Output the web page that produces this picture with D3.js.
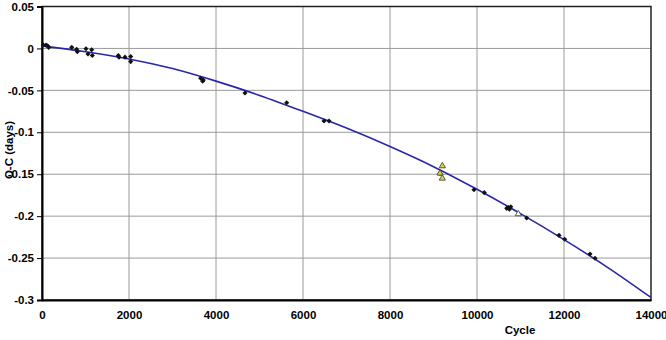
<!DOCTYPE html>
<html>
<head>
<meta charset="utf-8">
<script src="https://cdn.jsdelivr.net/npm/d3@7"></script>
<style>
  body { margin: 0; background: #fff; }
  svg text { font-family: "Liberation Sans", Arial, sans-serif; font-weight: bold; }
</style>
</head>
<body>
<div id="chart"></div>
<script>
// observed minima (cycle, O-C)
var obsCycles = [30, 92, 131, 154, 683, 797, 812, 1011, 1057, 1142, 1157, 1754, 1770, 1908, 2039, 2039,
  3648, 3694, 3708, 4666, 5625, 6483, 6598, 9150, 9930, 10168, 10683, 10721, 10744, 10776, 11142,
  11885, 12016, 12598, 12713];
var obsValues = [0.004, 0.004, 0.003, 0.0013, 0.0013, -0.001, -0.004, -0.0004, -0.0067, -0.0016, -0.0085,
  -0.0085, -0.0104, -0.0104, -0.0097, -0.0157, -0.0356, -0.0392, -0.0377, -0.0532, -0.0647, -0.0866,
  -0.0866, -0.149, -0.1685, -0.172, -0.1907, -0.1899, -0.1918, -0.1888, -0.2022, -0.2229, -0.2276,
  -0.2451, -0.2503];

// other minima (triangles)
var triCycles = [9203, 9150, 9203];
var triValues = [-0.1402, -0.1489, -0.1549];
var openTriCycles = [10950];
var openTriValues = [-0.1974];

// fitted curve
var fitCycles = [0, 1000, 2000, 3000, 4000, 5000, 6000, 7000, 8000, 9000, 10000, 11000, 12000, 13000, 14000];
var fitValues = [0.003, -0.004, -0.0125, -0.024, -0.039, -0.056, -0.075, -0.095, -0.117, -0.141, -0.168,
  -0.197, -0.228, -0.261, -0.297];

var xTicks = [0, 2000, 4000, 6000, 8000, 10000, 12000, 14000];
var yTicks = [0.05, 0, -0.05, -0.1, -0.15, -0.2, -0.25, -0.3];

function Plot() {
  var width = 666, height = 340;
  var mLeft = 42, mRight = 651, mTop = 6.5, mBottom = 300;

  var x = d3.scaleLinear().domain([0, 14000]).range([mLeft, mRight]);
  var y = d3.scaleLinear().domain([-0.3, 0.05]).range([mBottom, mTop]);

  var svg = d3.select("#chart").append("svg")
    .attr("width", width).attr("height", height);

  // grid
  svg.append("g").selectAll("line").data(xTicks.slice(1, -1)).enter().append("line")
    .attr("x1", function (d) { return x(d); }).attr("x2", function (d) { return x(d); })
    .attr("y1", mTop).attr("y2", mBottom)
    .attr("stroke", "#9a9a9a").attr("stroke-width", 1);
  svg.append("g").selectAll("line").data(yTicks.slice(1, -1)).enter().append("line")
    .attr("x1", mLeft).attr("x2", mRight)
    .attr("y1", function (d) { return y(d); }).attr("y2", function (d) { return y(d); })
    .attr("stroke", "#9a9a9a").attr("stroke-width", 1);

  // box
  svg.append("rect").attr("x", mLeft).attr("y", mTop)
    .attr("width", mRight - mLeft).attr("height", mBottom - mTop)
    .attr("fill", "none").attr("stroke", "#222").attr("stroke-width", 1.5);

  // axes
  var yAxis = d3.axisLeft(y).tickValues(yTicks).tickSize(5).tickPadding(3)
    .tickFormat(function (d) { return String(+d.toFixed(2)); });
  var gy = svg.append("g").attr("transform", "translate(" + mLeft + ",0)").call(yAxis);
  gy.select(".domain").attr("stroke", "#000").attr("stroke-width", 2);
  gy.selectAll("text").style("font-size", "11.5px").attr("fill", "#000");
  gy.selectAll(".tick line").attr("stroke", "#000");

  var xAxis = d3.axisBottom(x).tickValues(xTicks).tickSize(0).tickPadding(11).tickFormat(d3.format("d"));
  var gx = svg.append("g").attr("transform", "translate(0," + mBottom + ")").call(xAxis);
  gx.select(".domain").attr("stroke", "#000").attr("stroke-width", 2);
  gx.selectAll("text").style("font-size", "11.5px").attr("fill", "#000");

  // fit line
  var line = d3.line().curve(d3.curveMonotoneX)
    .x(function (d, i) { return x(fitCycles[i]); })
    .y(function (d) { return y(d); });
  svg.append("path").datum(fitValues)
    .attr("d", line).attr("fill", "none")
    .attr("stroke", "#2727a8").attr("stroke-width", 1.6);

  // observed points (small diamonds)
  var diamond = d3.symbol().type(d3.symbolSquare).size(13);
  svg.append("g").selectAll("path").data(obsValues).enter().append("path")
    .attr("d", diamond)
    .attr("transform", function (d, i) { return "translate(" + x(obsCycles[i]) + "," + y(d) + ") rotate(45)"; })
    .attr("fill", "#111");

  var tri = d3.symbol().type(d3.symbolTriangle).size(17);
  svg.append("g").selectAll("path").data(triValues).enter().append("path")
    .attr("d", tri)
    .attr("transform", function (d, i) { return "translate(" + x(triCycles[i]) + "," + y(d) + ")"; })
    .attr("fill", "#dcd83a").attr("stroke", "#333").attr("stroke-width", 0.8);
  svg.append("g").selectAll("path").data(openTriValues).enter().append("path")
    .attr("d", tri)
    .attr("transform", function (d, i) { return "translate(" + x(openTriCycles[i]) + "," + y(d) + ")"; })
    .attr("fill", "#fff").attr("stroke", "#333").attr("stroke-width", 0.8);

  // axis titles
  svg.append("text").attr("x", 520).attr("y", 334)
    .attr("text-anchor", "middle").style("font-size", "11.5px").text("Cycle");
  svg.append("text").attr("transform", "translate(13,150) rotate(-90)")
    .attr("text-anchor", "middle").style("font-size", "11.5px").text("O-C (days)");
}

Plot();
</script>
</body>
</html>
